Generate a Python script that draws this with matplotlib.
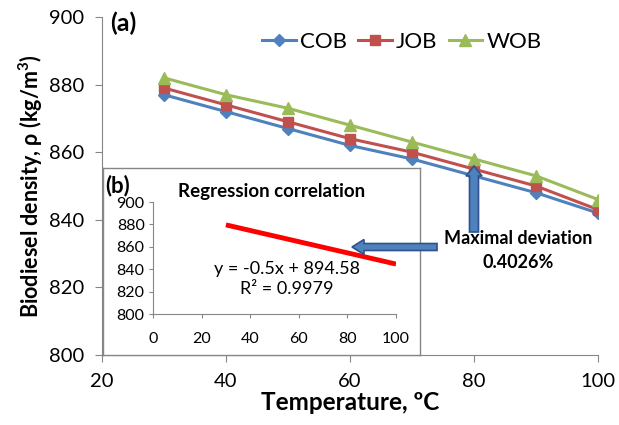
import numpy as np
import matplotlib.pyplot as plt
from matplotlib.patches import FancyArrow

plt.rcParams['font.family'] = ['Lato', 'DejaVu Sans']

# data
temp = [30, 40, 50, 60, 70, 80, 90, 100]
cob = [877, 872, 867, 862, 858, 853, 848, 842]
job = [879, 874, 869, 864, 860, 855, 850, 843]
wob = [882, 877, 873, 868, 863, 858, 853, 846]

# regression shown in inset (b)
slope, intercept = -0.5, 894.58
r2 = 0.9979
reg_x = [30, 100]

gray = '#868686'

fig = plt.figure(figsize=(6.19, 4.25), dpi=100)
ax = fig.add_axes([102/619, 1-355/425, 496/619, 338/425])

ax.plot(temp, cob, color='#4F81BD', lw=2.2, marker='D', ms=6, label='COB')
ax.plot(temp, job, color='#C0504D', lw=2.2, marker='s', ms=7, label='JOB')
ax.plot(temp, wob, color='#9BBB59', lw=2.2, marker='^', ms=8, label='WOB')

ax.set_xlim(20, 100)
ax.set_ylim(800, 900)
ax.set_xticks(range(20, 101, 20))
ax.set_yticks(range(800, 901, 20))
for s in ['top', 'right']:
    ax.spines[s].set_visible(False)
for s in ['left', 'bottom']:
    ax.spines[s].set_color(gray)
ax.tick_params(axis='both', direction='out', length=5, color=gray, labelsize=14.5)
ax.tick_params(axis='x', pad=8)
ax.tick_params(axis='y', pad=8)
ax.set_xlabel('Temperature, ºC', fontsize=17.5, fontweight='bold', labelpad=1)
ax.set_ylabel('Biodiesel density, ρ (kg/m$^\\mathregular{3}$)', fontsize=15.5, fontweight='bold', labelpad=3)

ax.legend(loc='center', bbox_to_anchor=(402/619, 1-42/425), bbox_transform=fig.transFigure,
          ncol=3, frameon=False, fontsize=16, handlelength=1.5, columnspacing=0.5,
          handletextpad=0.2)

fig.text(110/619, 1-23/425, '(a)', fontsize=18, fontweight='bold', va='center')

ax.text(87.1, 834.6, 'Maximal deviation', fontsize=13, fontweight='bold', ha='center', va='center')
ax.text(87.1, 827.5, '0.4026%', fontsize=13, fontweight='bold', ha='center', va='center')

# inset frame
box = fig.add_axes([103/619, 1-355/425, 317/619, 187/425])
box.set_xticks([])
box.set_yticks([])
for s in box.spines.values():
    s.set_color(gray)
    s.set_linewidth(1.0)

ins = fig.add_axes([153/619, 1-314/425, 243/619, 112/425])
reg_y = [slope * v + intercept for v in reg_x]
ins.plot(reg_x, reg_y, color='#FF0000', lw=3.5, solid_capstyle='butt')
ins.set_xlim(0, 100)
ins.set_ylim(800, 900)
ins.set_xticks(range(0, 101, 20))
ins.set_yticks(range(800, 901, 20))
ins.patch.set_alpha(0)
for s in ['top', 'right']:
    ins.spines[s].set_visible(False)
for s in ['left', 'bottom']:
    ins.spines[s].set_color(gray)
ins.tick_params(axis='both', direction='out', length=3, color=gray, labelsize=11.5)
ins.tick_params(axis='x', pad=10)
ins.tick_params(axis='y', pad=3)
ins.text(0.55, 0.47, 'y = -0.5x + 894.58\nR² = 0.9979', transform=ins.transAxes,
         fontsize=13, ha='center', va='top', linespacing=1.25)
fig.text(272/619, 1-192/425, 'Regression correlation', fontsize=13.5, fontweight='bold',
         ha='center', va='center')
fig.text(105/619, 1-186/425, '(b)', fontsize=16, fontweight='bold', va='center')

# block arrows
up = FancyArrow(474/619, 1-232/425, 0, 66/425, width=9/619, head_width=16/619,
                head_length=10/425, length_includes_head=True, transform=fig.transFigure,
                facecolor='#4F81BD', edgecolor='#2F528F', lw=1.2, zorder=5)
left = FancyArrow(437/619, 1-247/425, -85/619, 0, width=7/425, head_width=15/425,
                  head_length=12/619, length_includes_head=True, transform=fig.transFigure,
                  facecolor='#4F81BD', edgecolor='#2F528F', lw=1.2, zorder=5)
fig.add_artist(up)
fig.add_artist(left)

fig.savefig('out.png', dpi=100)
